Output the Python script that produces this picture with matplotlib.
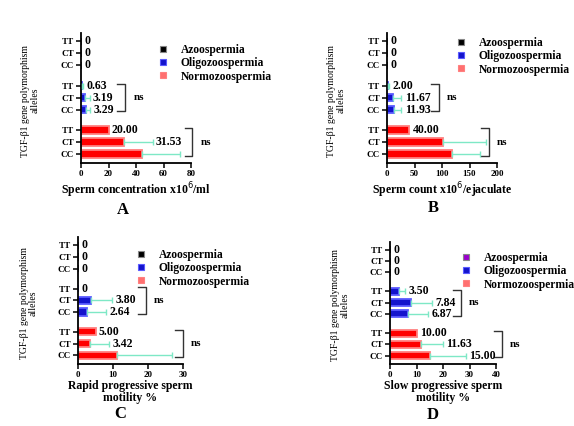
import matplotlib
matplotlib.use('Agg')
import matplotlib.pyplot as plt
from matplotlib.lines import Line2D

plt.rcParams['font.family'] = ['Liberation Serif', 'DejaVu Serif']

# order in every group: CC, CT, TT (bottom to top)
genotypes = ['CC', 'CT', 'TT']
groups = ['Normozoospermia', 'Oligozoospermia', 'Azoospermia']

# panel A - sperm concentration
a_means = {'Normozoospermia': [44.5, 31.53, 20.00],
           'Oligozoospermia': [3.29, 3.19, 0.63],
           'Azoospermia': [0, 0, 0]}
a_err = {'Normozoospermia': [27.5, 20.5, 0],
         'Oligozoospermia': [3.0, 3.0, 0.5],
         'Azoospermia': [0, 0, 0]}
a_labels = {'Normozoospermia': [None, '31.53', '20.00'],
            'Oligozoospermia': ['3.29', '3.19', '0.63'],
            'Azoospermia': ['0', '0', '0']}

# panel B - sperm count
b_means = {'Normozoospermia': [118.8, 101.8, 40.00],
           'Oligozoospermia': [11.93, 11.67, 2.00],
           'Azoospermia': [0, 0, 0]}
b_err = {'Normozoospermia': [50, 79, 0],
         'Oligozoospermia': [14, 14, 1],
         'Azoospermia': [0, 0, 0]}
b_labels = {'Normozoospermia': [None, None, '40.00'],
            'Oligozoospermia': ['11.93', '11.67', '2.00'],
            'Azoospermia': ['0', '0', '0']}

# panel C - rapid progressive motility
c_means = {'Normozoospermia': [11.1, 3.42, 5.00],
           'Oligozoospermia': [2.64, 3.80, 0],
           'Azoospermia': [0, 0, 0]}
c_err = {'Normozoospermia': [15.8, 5.4, 0],
         'Oligozoospermia': [5.3, 5.8, 0],
         'Azoospermia': [0, 0, 0]}
c_labels = {'Normozoospermia': [None, '3.42', '5.00'],
            'Oligozoospermia': ['2.64', '3.80', '0'],
            'Azoospermia': ['0', '0', '0']}

# panel D - slow progressive motility
d_means = {'Normozoospermia': [15.00, 11.63, 10.00],
           'Oligozoospermia': [6.87, 7.84, 3.50],
           'Azoospermia': [0, 0, 0]}
d_err = {'Normozoospermia': [13.7, 8.3, 0],
         'Oligozoospermia': [7.6, 7.9, 2.3],
         'Azoospermia': [0, 0, 0]}
d_labels = {'Normozoospermia': ['15.00', '11.63', '10.00'],
            'Oligozoospermia': ['6.87', '7.84', '3.50'],
            'Azoospermia': ['0', '0', '0']}

face = {'Normozoospermia': '#ff0000', 'Oligozoospermia': '#1414cc', 'Azoospermia': '#000000'}
edge = {'Normozoospermia': '#ff8080', 'Oligozoospermia': '#5a5aff', 'Azoospermia': '#555555'}
err_col = '#7ee8c6'
group_base = {'Normozoospermia': 0, 'Oligozoospermia': 3.7, 'Azoospermia': 7.4}

fig = plt.figure(figsize=(5.74, 4.26), dpi=100)
W, H = 574, 426


def px_axes(left, top, right, bottom):
    return fig.add_axes([left / W, 1 - bottom / H, (right - left) / W, (bottom - top) / H])


def draw_panel(ax, means, errs, labels, xmax, xticks, xlabel, brackets, letter, letter_xy,
               leg_xy, azoo_col='#000000', labelpad=2):
    yt, yl = [], []
    for g in groups:
        ys = [group_base[g] + i for i in range(3)]
        ax.barh(ys, means[g], height=0.62, color=face[g], edgecolor=edge[g], linewidth=1.3, zorder=2)
        for y, m, e, lab in zip(ys, means[g], errs[g], labels[g]):
            if e > 0:
                ax.errorbar(m + e / 2, y, xerr=e / 2, fmt='none', ecolor=err_col, elinewidth=1,
                            capsize=2, capthick=1, zorder=3)
            if lab is not None:
                ax.annotate(lab, (m + e, y), xytext=(2.5, 0), textcoords='offset points',
                            va='center', ha='left', fontsize=8.5, fontweight='bold',
                            annotation_clip=False)
        yt += ys
        yl += genotypes
    # ns brackets
    for g, bx in brackets.items():
        y0, y1 = group_base[g] - 0.15, group_base[g] + 2.15
        tick = xmax * 0.07
        ax.plot([bx - tick, bx, bx, bx - tick], [y0, y0, y1, y1], color='#333333', lw=1,
                clip_on=False)
        ax.annotate('ns', (bx, group_base[g] + 1), xytext=(6, 0), textcoords='offset points',
                    va='center', ha='left', fontsize=8, fontweight='bold', annotation_clip=False)
    ax.set_yticks(yt)
    ax.set_yticklabels(yl, fontsize=6.5, fontweight='bold')
    ax.set_xticks(xticks)
    ax.set_xticklabels([str(t) for t in xticks], fontsize=6.5, fontweight='bold')
    ax.set_xlim(0, xmax)
    ax.set_ylim(-0.75, 10.1)
    for s in ['top', 'right']:
        ax.spines[s].set_visible(False)
    for s in ['left', 'bottom']:
        ax.spines[s].set_linewidth(1.3)
    ax.tick_params(axis='both', length=3.5, width=1.1, pad=1.5)
    ax.set_xlabel(xlabel, fontsize=8.5, fontweight='bold', labelpad=labelpad, linespacing=1.0)
    ax.set_ylabel('TGF-β1 gene polymorphism\nalleles', fontsize=7, linespacing=1.05)
    ax.yaxis.set_label_coords(-0.38, 0.48)
    fig.text(letter_xy[0] / W, 1 - letter_xy[1] / H, letter, fontsize=12, fontweight='bold',
             ha='center', va='center')
    cols = {'Azoospermia': azoo_col, 'Oligozoospermia': face['Oligozoospermia'],
            'Normozoospermia': '#ff7070'}
    handles = [Line2D([], [], ls='none', marker='s', markersize=4, markerfacecolor=cols[g],
                      markeredgecolor=edge[g] if g != 'Azoospermia' else '#888888',
                      markeredgewidth=0.8)
               for g in ['Azoospermia', 'Oligozoospermia', 'Normozoospermia']]
    fig.legend(handles, ['Azoospermia', 'Oligozoospermia', 'Normozoospermia'],
               loc='upper left', bbox_to_anchor=(leg_xy[0] / W, 1 - leg_xy[1] / H),
               frameon=False, borderpad=0, handlelength=1, handletextpad=1.1,
               labelspacing=0.12, prop={'weight': 'bold', 'size': 8.3})


axA = px_axes(81, 33, 191, 163)
draw_panel(axA, a_means, a_err, a_labels, 80, [0, 20, 40, 60, 80],
           'Sperm concentration x10$^{6}$/ml',
           {'Oligozoospermia': 32, 'Normozoospermia': 81}, 'A', (123, 210), (151, 38))

axB = px_axes(387, 33, 497, 163)
draw_panel(axB, b_means, b_err, b_labels, 200, [0, 50, 100, 150, 200],
           'Sperm count x10$^{6}$/ejaculate',
           {'Oligozoospermia': 94, 'Normozoospermia': 185}, 'B', (433, 208), (449, 31))

axC = px_axes(78, 237, 183, 364)
draw_panel(axC, c_means, c_err, c_labels, 30, [0, 10, 20, 30],
           'Rapid progressive sperm\nmotility %',
           {'Oligozoospermia': 19.3, 'Normozoospermia': 29.9}, 'C', (120, 414), (129, 243),
           labelpad=1)

axD = px_axes(390, 242, 496, 364)
draw_panel(axD, d_means, d_err, d_labels, 40, [0, 10, 20, 30, 40],
           'Slow progressive sperm\nmotility %',
           {'Oligozoospermia': 26.7, 'Normozoospermia': 42.2}, 'D', (433, 415), (454, 246),
           azoo_col='#9900cc', labelpad=1)

fig.savefig('out.png', dpi=100)
